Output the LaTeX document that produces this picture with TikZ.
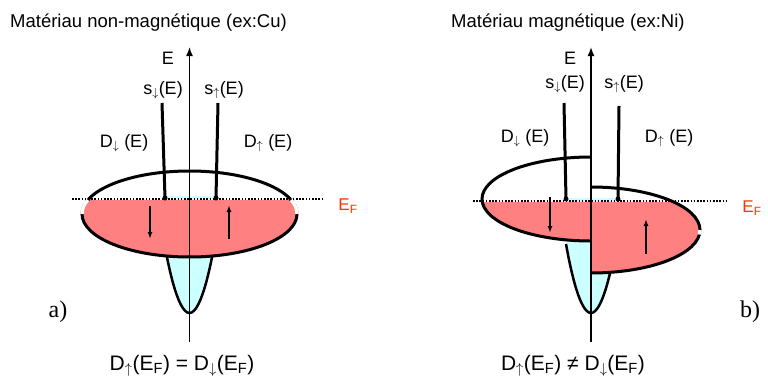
\documentclass[tikz,border=0pt]{standalone}
\usepackage{fontspec}
\setmainfont{Liberation Sans}
\newfontfamily\serifface{Liberation Serif}
\usetikzlibrary{arrows.meta}
\definecolor{redfill}{RGB}{255,128,128}
\definecolor{cyanfill}{RGB}{204,255,255}
\definecolor{efred}{RGB}{255,51,0}
\newcommand{\dn}{$_\downarrow$}
\newcommand{\up}{$_\uparrow$}
\tikzset{
  outline/.style={line width=3pt},
  axisline/.style={line width=1.5pt,-{Latex[length=9pt,width=7pt]}},
  spinarrow/.style={line width=1.4pt,-{Latex[length=7pt,width=5pt]}},
  fermiline/.style={line width=1.6pt,dash pattern=on 1.6pt off 1.6pt},
  sline/.style={line width=3pt},
  titlelbl/.style={font=\fontsize{18.5}{22}\selectfont,inner sep=0pt},
  lbl/.style={font=\fontsize{18}{21}\selectfont,inner sep=0pt},
  eqlbl/.style={font=\fontsize{21}{24}\selectfont,inner sep=0pt},
  panel/.style={font=\serifface\fontsize{24}{27}\selectfont,inner sep=0pt},
  eflbl/.style={font=\fontsize{17}{20}\selectfont,text=efred,inner sep=0pt},
  dotnode/.style={circle,fill=black,inner sep=0pt,minimum size=5pt}
}
\begin{document}
\begin{tikzpicture}[x=1pt,y=-1pt]
\useasboundingbox (0,0) rectangle (768,388);
% ================= LEFT (non magnetic) =================
\fill[cyanfill] (164.5,196) -- (164.5,244) parabola bend (189.5,313) (214.5,244) -- (214.5,196) -- cycle;
\draw[line width=2.5pt] (164.5,244) parabola bend (189.5,313) (214.5,244);
\begin{scope}
  \clip (189.5,214) ellipse [x radius=107.5, y radius=43];
  \fill[redfill] (70,200) rectangle (310,260);
\end{scope}
\draw[outline] (189.5,214) ellipse [x radius=107.5, y radius=43];
\draw[white,line width=3.4pt] (189.5,214) ++(180:107.5 and 43) arc[start angle=180,end angle=199,x radius=107.5,y radius=43];
\draw[white,line width=3.4pt] (189.5,214) ++(-19:107.5 and 43) arc[start angle=-19,end angle=0,x radius=107.5,y radius=43];
% axis
\coordinate (La0) at (189.5,342);
\coordinate (La1) at (189.5,47);
\draw[axisline] (La0) -- (La1);
% Fermi level
\coordinate (Lf0) at (72,199);
\coordinate (Lf1) at (324,199);
\draw[fermiline] (Lf0) -- (Lf1);
% s lines
\node[dotnode] (Ld1) at (165,198) {};
\node[dotnode] (Ld2) at (216,198) {};
\coordinate (Ls1) at (162,103);
\coordinate (Ls2) at (218,103);
\draw[sline] (Ls1) -- (Ld1.center);
\draw[sline] (Ls2) -- (Ld2.center);
% spin arrows
\coordinate (Lar1) at (150,206);
\coordinate (Lar2) at (150,239);
\coordinate (Lar3) at (229,239);
\coordinate (Lar4) at (229,205);
\draw[spinarrow] (Lar1) -- (Lar2);
\draw[spinarrow] (Lar3) -- (Lar4);
% labels
\node[titlelbl,anchor=west] (Ltitle) at (10,23) {Matériau non-magnétique (ex:Cu)};
\node[lbl] (LE) at (168,58) {E};
\node[lbl] (Lsd) at (163,90) {s\dn(E)};
\node[lbl] (Lsu) at (224,90) {s\up(E)};
\node[lbl] (LDd) at (124,143) {D\dn\ (E)};
\node[lbl] (LDu) at (268,143) {D\up\ (E)};
\node[eflbl] (LEF) at (348,206) {E\textsubscript{F}};
\node[panel] (La) at (58,312) {a)};
\node[eqlbl] (Leq) at (182,366) {D\up(E\textsubscript{F}) = D\dn(E\textsubscript{F})};
% ================= RIGHT (magnetic) =================
\fill[cyanfill] (566,198) -- (566,244) parabola bend (591,313) (616,244) -- (618,198) -- cycle;
\draw[line width=2.5pt] (566,244) parabola bend (591,313) (616,244);
\begin{scope}
  \clip (591,241) arc[start angle=90,end angle=270,x radius=109,y radius=42] -- cycle;
  \fill[redfill] (470,202) rectangle (592,250);
\end{scope}
\begin{scope}
  \clip (591,187) arc[start angle=-90,end angle=90,x radius=109,y radius=43] -- cycle;
  \fill[redfill] (590,202) rectangle (710,280);
\end{scope}
\draw[outline] (591,241) arc[start angle=90,end angle=270,x radius=109,y radius=42];
\draw[outline] (591,187) arc[start angle=-90,end angle=90,x radius=109,y radius=43];
\draw[white,line width=3.4pt] (591,230) ++(0:109 and 43) arc[start angle=0,end angle=6,x radius=109,y radius=43];
% axis
\coordinate (Ra0) at (591,342);
\coordinate (Ra1) at (591,47);
\draw[axisline] (Ra0) -- (Ra1);
% Fermi level
\coordinate (Rf0) at (473,201);
\coordinate (Rf1) at (726,201);
\draw[fermiline] (Rf0) -- (Rf1);
% s lines
\node[dotnode] (Rd1) at (566,199) {};
\node[dotnode] (Rd2) at (618,199) {};
\coordinate (Rs1) at (564,103);
\coordinate (Rs2) at (619,106);
\draw[sline] (Rs1) -- (Rd1.center);
\draw[sline] (Rs2) -- (Rd2.center);
% spin arrows
\coordinate (Rar1) at (550,197);
\coordinate (Rar2) at (550,233);
\coordinate (Rar3) at (646,254);
\coordinate (Rar4) at (646,219);
\draw[spinarrow] (Rar1) -- (Rar2);
\draw[spinarrow] (Rar3) -- (Rar4);
% labels
\node[titlelbl,anchor=west] (Rtitle) at (451,23) {Matériau magnétique (ex:Ni)};
\node[lbl] (RE) at (570,58) {E};
\node[lbl] (Rsd) at (565,84) {s\dn(E)};
\node[lbl] (Rsu) at (624,84) {s\up(E)};
\node[lbl] (RDd) at (525,138) {D\dn\ (E)};
\node[lbl] (RDu) at (669,138) {D\up\ (E)};
\node[eflbl] (REF) at (752,208) {E\textsubscript{F}};
\node[panel] (Rb) at (750,312) {b)};
\node[eqlbl] (Req) at (573,366) {D\up(E\textsubscript{F}) ≠ D\dn(E\textsubscript{F})};
\end{tikzpicture}
\end{document}
